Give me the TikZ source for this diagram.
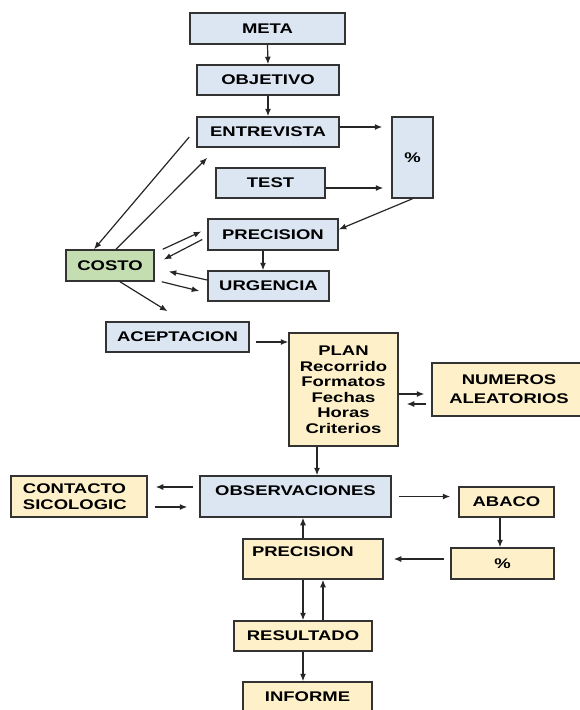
\documentclass[tikz,border=0pt]{standalone}
\usepackage{fontspec}
\setmainfont{Liberation Sans}[FakeStretch=1.32]
\usetikzlibrary{arrows.meta}
\definecolor{boxblue}{RGB}{220,230,242}
\definecolor{boxyellow}{RGB}{254,241,202}
\definecolor{boxgreen}{RGB}{196,222,177}
\begin{document}
\begin{tikzpicture}[x=1pt, y=-1pt,
    box/.style={draw=black!80, line width=1.5pt, inner sep=0pt, align=center,
      font=\fontsize{14}{15.5}\selectfont\bfseries},
    blue box/.style={box, fill=boxblue},
    yellow box/.style={box, fill=boxyellow},
    green box/.style={box, fill=boxgreen},
    arr/.style={-{Latex[length=7.5pt,width=6pt]}, line width=1.2pt, black!85}]
    \useasboundingbox (0,0) rectangle (579,710);

    \node[blue box, minimum width=155pt, minimum height=31pt] (meta) at (267.5,28.5) {META};
    \node[blue box, minimum width=142pt, minimum height=30pt] (obj) at (268,80) {OBJETIVO};
    \node[blue box, minimum width=142pt, minimum height=30pt] (ent) at (268,132) {ENTREVISTA};
    \node[blue box, minimum width=41pt, minimum height=81pt] (pct) at (412.5,157.5) {\%};
    \node[blue box, minimum width=109pt, minimum height=30pt] (test) at (270.5,183) {TEST};
    \node[blue box, minimum width=130pt, minimum height=31pt] (prec) at (273,234.5) {PRECISION};
    \node[green box, minimum width=88pt, minimum height=31pt] (costo) at (110,265.5) {COSTO};
    \node[blue box, minimum width=121pt, minimum height=30pt] (urg) at (268.5,286) {URGENCIA};
    \node[blue box, minimum width=143pt, minimum height=30pt] (acep) at (177.5,337) {ACEPTACION};
    \node[yellow box, minimum width=109pt, minimum height=113pt] (plan) at (343.5,389.5)
        {PLAN\\Recorrido\\Formatos\\Fechas\\Horas\\Criterios};
    \node[yellow box, minimum width=154pt, minimum height=53pt] (num) at (509,389.5)
        {NUMEROS\\[3.5pt]ALEATORIOS};
    \node[yellow box, minimum width=136pt, minimum height=41pt, align=left, text width=112pt]
        (cont) at (79,496.5) {CONTACTO\\SICOLOGIC};
    \node[blue box, minimum width=191pt, minimum height=41pt, text depth=11pt] (obs) at (295.5,496.5) {OBSERVACIONES};
    \node[yellow box, minimum width=95pt, minimum height=30pt] (abaco) at (506.5,502) {ABACO};
    \node[yellow box, minimum width=140pt, minimum height=40pt, text depth=14pt, align=left, text width=122pt]
        (precb) at (313,559) {PRECISION};
    \node[yellow box, minimum width=103pt, minimum height=31pt] (pctb) at (502.5,563.5) {\%};
    \node[yellow box, minimum width=138pt, minimum height=30pt] (res) at (303,636) {RESULTADO};
    \node[yellow box, minimum width=129pt, minimum height=30pt] (inf) at (307.5,697) {INFORME};

    \draw[arr] (meta.south) -- (obj.north);
    \draw[arr] (obj.south) -- (ent.north);
    \draw[arr, shorten >=9pt] ([yshift=5pt]ent.east) -- ([yshift=5pt]ent.east -| pct.west);
    \draw[arr, shorten >=8pt] ([yshift=-5pt]test.east) -- ([yshift=-5pt]test.east -| pct.west);
    \draw[arr] (pct.south) -- ([yshift=5pt]prec.east);
    \draw[arr] ([xshift=-7pt,yshift=-5pt]ent.west) -- ([xshift=-16pt]costo.north);
    \draw[arr] ([xshift=6pt]costo.north) -- ([xshift=11pt,yshift=-10pt]ent.south west);
    \draw[arr] ([xshift=8pt]costo.north east) -- ([xshift=-6pt,yshift=3pt]prec.west);
    \draw[arr] ([xshift=-5pt,yshift=-5pt]prec.west) -- ([xshift=9pt,yshift=6pt]costo.east);
    \draw[arr] ([yshift=6pt]urg.west) -- ([xshift=14pt,yshift=-6pt]costo.east);
    \draw[arr] ([xshift=7pt]costo.south east) -- ([xshift=-8pt,yshift=-5pt]urg.west);
    \draw[arr] ([xshift=10pt]costo.south) -- ([xshift=-10pt,yshift=10pt]acep.north);
    \draw[arr] ([xshift=-10pt]prec.south) -- ([xshift=-10pt]prec.south |- urg.north);
    \draw[arr, shorten <=6pt] ([yshift=-5pt]acep.east) -- ([yshift=-5pt]acep.east -| plan.west);
    \draw[arr, shorten >=7pt] ([yshift=-4.5pt]plan.east) -- ([yshift=-4.5pt]plan.east -| num.west);
    \draw[arr, shorten <=5pt, shorten >=8pt] ([yshift=-14.5pt]num.west) -- ([yshift=-14.5pt]num.west -| plan.east);
    \draw[arr] ([xshift=-26.5pt]plan.south) -- ([xshift=-26.5pt]plan.south |- obs.north);
    \draw[arr, shorten <=6pt, shorten >=8pt] ([yshift=9.5pt]obs.west) -- ([yshift=9.5pt]obs.west -| cont.east);
    \draw[arr, shorten <=7pt, shorten >=12pt] ([yshift=-10.5pt]cont.east) -- ([yshift=-10.5pt]cont.east -| obs.west);
    \draw[arr, shorten <=7pt, shorten >=8pt] (obs.east) -- (obs.east -| abaco.west);
    \draw[arr] ([xshift=-6.5pt]abaco.south) -- ([xshift=-6.5pt]abaco.south |- pctb.north);
    \draw[arr, shorten <=6pt, shorten >=10pt] ([yshift=4.5pt]pctb.west) -- ([yshift=4.5pt]pctb.west -| precb.east);
    \draw[arr] ([xshift=-10pt]precb.north) -- ([xshift=-10pt]precb.north |- obs.south);
    \draw[arr] ([xshift=-10pt]precb.south) -- ([xshift=-10pt]precb.south |- res.north);
    \draw[arr] ([xshift=20pt]res.north) -- ([xshift=20pt]res.north |- precb.south);
    \draw[arr] (res.south) -- (res.south |- inf.north);
\end{tikzpicture}
\end{document}
